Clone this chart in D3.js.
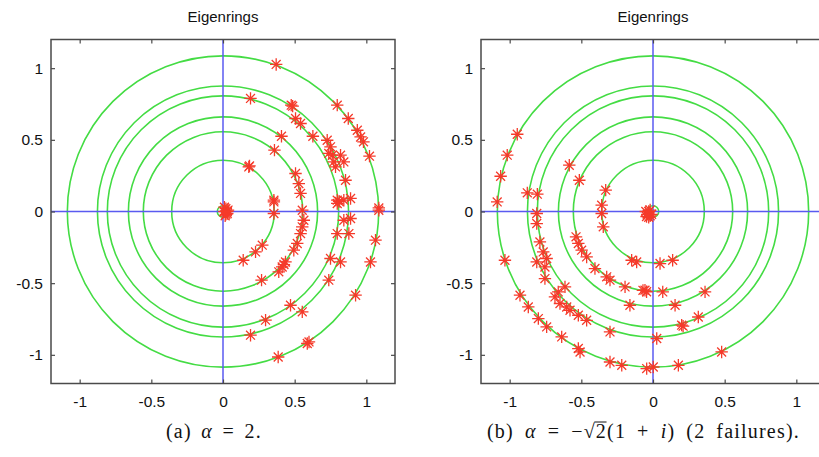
<!DOCTYPE html>
<html>
<head>
<meta charset="utf-8">
<script src="https://cdn.jsdelivr.net/npm/d3@7"></script>
<style>
  body { margin: 0; background: #fff; }
  svg { display: block; }
</style>
</head>
<body>
<svg id="chart" width="819" height="457"></svg>
<script>
// ring radii (same for both panels)
var ringRadii = [1.086, 0.876, 0.807, 0.66, 0.556, 0.358, 0.04];
var tickValues = [-1, -0.5, 0, 0.5, 1];
var titles = ["Eigenrings", "Eigenrings"];

// eigenvalues, panel (a) alpha = 2
var eigA = [
  [0.371, 1.026], [0.192, 0.789], [0.476, 0.742], [0.486, 0.735], [0.506, 0.649], [0.541, 0.614],
  [0.797, 0.742], [0.874, 0.649], [0.937, 0.567], [0.96, 0.52], [0.98, 0.486], [1.022, 0.386],
  [0.408, 0.525], [0.359, 0.428], [0.627, 0.525], [0.727, 0.497], [0.75, 0.451], [0.762, 0.393],
  [0.773, 0.346], [0.738, 0.405], [0.785, 0.311], [0.82, 0.393], [0.843, 0.346], [0.855, 0.218],
  [0.18, 0.311], [0.185, 0.318], [0.355, 0.079], [0.506, 0.265], [0.529, 0.195], [0.541, 0.126],
  [0.797, 0.079], [0.843, 0.079], [0.89, 0.091], [0.81, 0.07], [1.087, 0.025],
  [0.02, 0.02], [0.03, 0.0], [0.02, -0.02], [0.01, 0.03], [0.035, 0.01], [0.015, -0.03], [0.03, -0.015], [0.01, 0.0],
  [0.355, 0.067], [0.355, -0.014], [0.553, 0.009], [0.564, -0.061], [0.553, -0.107], [0.541, -0.154],
  [0.518, -0.223], [0.494, -0.27], [0.436, -0.352], [0.413, -0.387], [0.389, -0.421], [0.425, -0.37],
  [0.274, -0.235], [0.227, -0.282], [0.141, -0.34], [0.269, -0.479],
  [0.797, 0.056], [0.89, -0.049], [0.797, -0.154], [0.878, -0.154], [0.843, -0.061],
  [1.087, 0.009], [1.064, -0.2], [1.029, -0.352], [0.925, -0.584], [0.75, -0.328], [0.82, -0.352],
  [0.738, -0.479], [0.471, -0.654], [0.553, -0.7], [0.297, -0.758], [0.192, -0.863],
  [0.588, -0.921], [0.6, -0.91], [0.385, -1.015]
];

// eigenvalues, panel (b) alpha = -sqrt(2)(1+i)
var eigB = [
  [-0.947, 0.539], [-1.017, 0.393], [-1.063, 0.246], [-1.087, 0.067], [-0.877, 0.13], [-0.807, 0.121],
  [-0.584, 0.323], [-0.514, 0.218], [-0.33, 0.149], [-0.358, 0.044],
  [-0.03, 0.0], [-0.04, -0.02], [-0.02, -0.03], [-0.05, 0.0], [-0.01, -0.02], [-0.03, -0.04], [-0.045, -0.035], [-0.02, 0.01],
  [-0.811, -0.014], [-0.811, -0.084], [-0.358, -0.014], [-0.347, -0.107],
  [-1.033, -0.34], [-0.789, -0.212], [-0.766, -0.282], [-0.742, -0.328], [-0.811, -0.352], [-0.754, -0.387],
  [-0.754, -0.468], [-0.537, -0.177], [-0.521, -0.223], [-0.498, -0.27], [-0.463, -0.317],
  [-0.405, -0.398], [-0.323, -0.456], [-0.3, -0.479], [-0.195, -0.526],
  [-0.149, -0.34], [-0.114, -0.352], [0.049, -0.363], [0.137, -0.34],
  [-0.056, -0.549], [-0.07, -0.55], [-0.045, -0.56], [0.068, -0.561], [0.363, -0.561],
  [-0.161, -0.654], [0.154, -0.654],
  [-0.614, -0.526], [-0.661, -0.561], [-0.684, -0.596], [-0.649, -0.642], [-0.602, -0.666], [-0.579, -0.689],
  [-0.521, -0.724], [-0.463, -0.759], [-0.3, -0.84], [0.2, -0.793], [0.21, -0.8], [0.316, -0.736], [0.026, -0.886],
  [-0.928, -0.584], [-0.87, -0.666], [-0.8, -0.747], [-0.742, -0.805],
  [-0.637, -0.875], [-0.521, -0.956], [-0.509, -0.98], [-0.3, -1.05], [-0.218, -1.073],
  [-0.044, -1.096], [0.002, -1.085], [0.177, -1.073], [0.479, -0.98]
];

var svg = d3.select("#chart");
var size = 344;
var panels = [
  { left: 51, top: 39.5, title: titles[0], points: eigA, id: "a" },
  { left: 481, top: 39.5, title: titles[1], points: eigB, id: "b" }
];

var fmt = function(d) { return String(d); };

// asterisk marker (plus + cross)
function star(r) {
  var d = r * 0.72;
  return "M" + (-r) + ",0L" + r + ",0M0," + (-r) + "L0," + r +
         "M" + (-d) + "," + (-d) + "L" + d + "," + d +
         "M" + (-d) + "," + d + "L" + d + "," + (-d);
}

panels.forEach(function(p) {
  var x = d3.scaleLinear().domain([-1.2, 1.2]).range([p.left, p.left + size]);
  var y = d3.scaleLinear().domain([-1.2, 1.2]).range([p.top + size, p.top]);
  var g = svg.append("g");

  g.append("defs").append("clipPath").attr("id", "clip-" + p.id)
    .append("rect").attr("x", p.left).attr("y", p.top).attr("width", size).attr("height", size);

  var plot = g.append("g").attr("clip-path", "url(#clip-" + p.id + ")");

  // rings
  plot.selectAll("circle.ring")
    .data(ringRadii)
    .enter().append("circle")
      .attr("class", "ring")
      .attr("cx", x(0))
      .attr("cy", y(0))
      .attr("r", function(d) { return x(d) - x(0); })
      .attr("fill", "none")
      .attr("stroke", "#44dc44")
      .attr("stroke-width", 1.6);

  // coordinate axes
  plot.append("line")
    .attr("x1", x(-1.2)).attr("x2", x(1.2)).attr("y1", y(0)).attr("y2", y(0))
    .attr("stroke", "#5a5af0").attr("stroke-width", 1.5);
  plot.append("line")
    .attr("x1", x(0)).attr("x2", x(0)).attr("y1", y(-1.2)).attr("y2", y(1.2))
    .attr("stroke", "#5a5af0").attr("stroke-width", 1.5);

  // eigenvalues
  plot.selectAll("path.eig")
    .data(p.points)
    .enter().append("path")
      .attr("class", "eig")
      .attr("transform", function(d) { return "translate(" + x(d[0]) + "," + y(d[1]) + ")"; })
      .attr("d", star(6.2))
      .attr("fill", "none")
      .attr("stroke", "#f53a2a")
      .attr("stroke-width", 1.3);

  // frame
  g.append("rect")
    .attr("x", p.left).attr("y", p.top).attr("width", size).attr("height", size)
    .attr("fill", "none").attr("stroke", "#4a4a4a").attr("stroke-width", 1.5);

  var axStyle = function(sel) {
    sel.select(".domain").remove();
    sel.selectAll(".tick line").attr("stroke", "#4a4a4a").attr("stroke-width", 1.2);
    sel.selectAll(".tick text")
      .attr("fill", "#111")
      .style("font-family", "'Liberation Sans', Arial, sans-serif")
      .style("font-size", "15.5px");
  };

  g.append("g")
    .attr("transform", "translate(0," + (p.top + size) + ")")
    .call(d3.axisBottom(x).tickValues(tickValues).tickSize(-4).tickPadding(12).tickFormat(fmt))
    .call(axStyle);
  g.append("g")
    .attr("transform", "translate(0," + p.top + ")")
    .call(d3.axisTop(x).tickValues(tickValues).tickSize(-4).tickFormat(""))
    .call(axStyle);
  g.append("g")
    .attr("transform", "translate(" + p.left + ",0)")
    .call(d3.axisLeft(y).tickValues(tickValues).tickSize(-4).tickPadding(8).tickFormat(fmt))
    .call(axStyle);
  g.append("g")
    .attr("transform", "translate(" + (p.left + size) + ",0)")
    .call(d3.axisRight(y).tickValues(tickValues).tickSize(-4).tickFormat(""))
    .call(axStyle);

  g.append("text")
    .attr("x", p.left + size / 2)
    .attr("y", 22)
    .attr("text-anchor", "middle")
    .style("font-family", "'Liberation Sans', Arial, sans-serif")
    .style("font-size", "15px")
    .attr("fill", "#111")
    .text(p.title);
});

// captions
var serif = "'Liberation Serif', 'DejaVu Serif', serif";
function caption(cx, target, parts) {
  var t = svg.append("text")
    .attr("x", cx).attr("y", 438)
    .attr("text-anchor", "middle")
    .style("font-family", serif).style("font-size", "20px").attr("fill", "#111");
  parts.forEach(function(pt) {
    var s = t.append("tspan").text(pt[0]);
    if (pt[1]) s.style("font-style", "italic");
  });
  // spread the glyphs a little, then widen spaces, to approach the TeX width
  var nat = t.node().getComputedTextLength();
  var txt = t.node().textContent;
  var extra = target - nat;
  if (extra > 0) {
    var ls = Math.min(1.2, extra * 0.6 / txt.length);
    t.attr("letter-spacing", ls);
    var nat2 = t.node().getComputedTextLength();
    var spaces = txt.split(" ").length - 1;
    if (spaces > 0 && target > nat2) t.attr("word-spacing", (target - nat2) / spaces);
  }
  return t;
}

caption(214, 96, [["(a) "], ["α", true], [" = 2."]]);
var capB = caption(643.5, 313, [["(b) "], ["α", true], [" = −√"], ["2"], ["(1 + "], ["i", true], [") (2 failures)."]]);

// overline of the square root
var full = capB.node().textContent;
var idx = full.indexOf("√");
var ext = capB.node().getExtentOfChar(idx);
var ext2 = capB.node().getExtentOfChar(idx + 1);
svg.append("line")
  .attr("x1", ext.x + ext.width - 1.5).attr("x2", ext2.x + ext2.width - 0.5)
  .attr("y1", ext.y + 2).attr("y2", ext.y + 2)
  .attr("stroke", "#111").attr("stroke-width", 1);
</script>
</body>
</html>
